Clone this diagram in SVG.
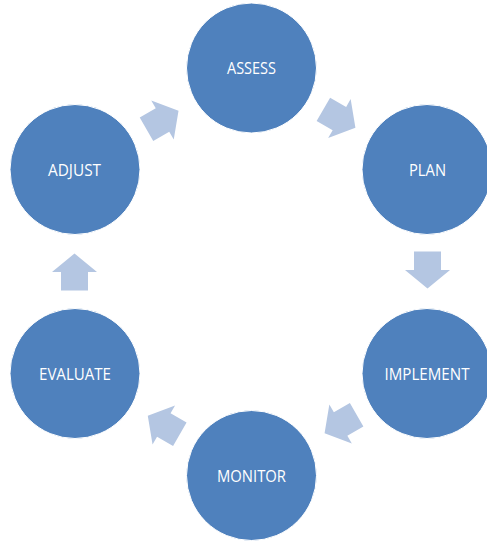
<svg xmlns="http://www.w3.org/2000/svg" width="487" height="541" viewBox="0 0 487 541">
<style>
.node circle{fill:#4F81BD;stroke:#FFFFFF;stroke-width:1}
.node text{fill:#FFFFFF;font-family:"Open Sans","Liberation Sans",sans-serif;font-size:16px;text-anchor:middle}
.arrow{fill:#B4C6E2}
</style>
<defs>
<path id="arr" d="M -18.5 -13.5 L 0 -13.5 L 0 -22.5 L 18.5 0 L 0 22.5 L 0 13.5 L -18.5 13.5 Z"/>
</defs>
<rect width="487" height="541" fill="#FFFFFF"/>
<g id="connectors">
<use href="#arr" class="arrow" transform="translate(339.4,118.6) rotate(30)"/>
<use href="#arr" class="arrow" transform="translate(427.5,270) rotate(90)"/>
<use href="#arr" class="arrow" transform="translate(340.6,424) rotate(150)"/>
<use href="#arr" class="arrow" transform="translate(163.8,425) rotate(210)"/>
<use href="#arr" class="arrow" transform="translate(74.5,272) rotate(270)"/>
<use href="#arr" class="arrow" transform="translate(162.5,120) rotate(330)"/>
</g>
<g id="assess" class="node"><circle cx="251.5" cy="68" r="65"/><text x="251.5" y="73.5" textLength="49" lengthAdjust="spacingAndGlyphs">ASSESS</text></g>
<g id="plan" class="node"><circle cx="427" cy="169.5" r="65"/><text x="427.5" y="175.5" textLength="37" lengthAdjust="spacingAndGlyphs">PLAN</text></g>
<g id="implement" class="node"><circle cx="427" cy="373.5" r="65"/><text x="427" y="379.5" textLength="85" lengthAdjust="spacingAndGlyphs">IMPLEMENT</text></g>
<g id="monitor" class="node"><circle cx="251.5" cy="475.5" r="65"/><text x="251.5" y="481.5" textLength="69" lengthAdjust="spacingAndGlyphs">MONITOR</text></g>
<g id="evaluate" class="node"><circle cx="75" cy="373.5" r="65"/><text x="75" y="379.5" textLength="72" lengthAdjust="spacingAndGlyphs">EVALUATE</text></g>
<g id="adjust" class="node"><circle cx="75" cy="169.5" r="65"/><text x="74.5" y="175.5" textLength="53" lengthAdjust="spacingAndGlyphs">ADJUST</text></g>
</svg>
